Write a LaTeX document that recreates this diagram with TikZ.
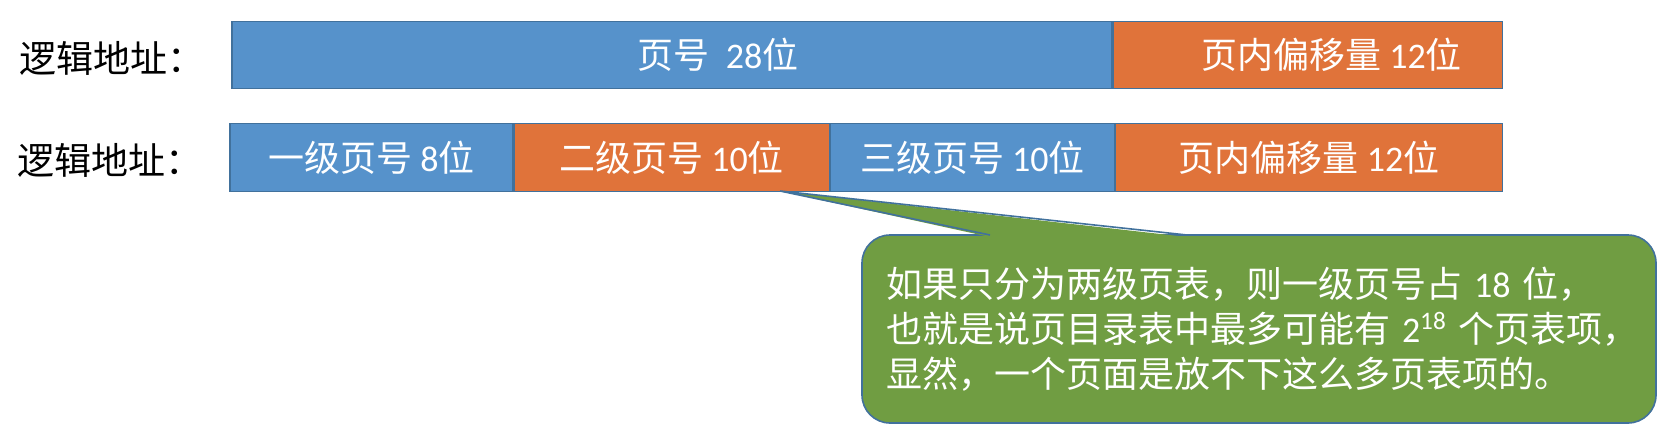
\documentclass[tikz,border=0pt]{standalone}
\usepackage{fontspec}
\setmainfont{Noto Sans CJK SC}
\newfontfamily\lat{Carlito}
\usepackage{xcolor}
\usetikzlibrary{positioning}
\definecolor{barblue}{RGB}{86,146,203}
\definecolor{barorange}{RGB}{224,115,58}
\definecolor{notegreen}{RGB}{112,157,66}
\definecolor{edgeblue}{RGB}{65,113,156}
\newcommand{\dg}[1]{{\lat #1}}

\begin{document}
\begin{tikzpicture}[x=0.5pt,y=-0.5pt,
  addr/.style={anchor=west,inner sep=0pt,font=\fontsize{18.5}{22}\selectfont},
  bar/.style={draw=edgeblue,line width=0.6pt,minimum height=33.75pt,inner sep=0pt,
    text=white,font=\fontsize{18}{22}\selectfont},
  bartext/.style={text=white,inner sep=0pt,font=\fontsize{18}{22}\selectfont},
  note/.style={rectangle,rounded corners=14pt,fill=notegreen,draw=edgeblue,line width=0.8pt,
    text=white,text width=373pt,inner xsep=12pt,minimum height=94pt,align=left,
    font=\fontsize{18}{22.5}\selectfont}]
\useasboundingbox (0,0) rectangle (1667,434);
% one page number of 28 bits
\node[addr] (lab1) at (19,58) {逻辑地址：};
\node[bar,fill=barblue,minimum width=440pt] (pn) at (672,55) {};
\node[bar,fill=barorange,minimum width=194.5pt,right=0pt of pn] (off1) {};
\node[bartext] (t1) at ([xshift=23pt]pn.center) {页号\ \ \dg{28}位};
\node[bartext] (t2) at ([xshift=12pt]off1.center) {页内偏移量 \dg{12}位};
% three levels
\node[addr] (lab2) at (17,160) {逻辑地址：};
\node[bar,fill=barblue,minimum width=141.5pt] (l1) at (371.5,157.5) {一级页号 \dg{8}位};
\node[bar,fill=barorange,minimum width=157.5pt,right=0pt of l1] (l2) {二级页号 \dg{10}位};
\node[bar,fill=barblue,minimum width=142pt,right=0pt of l2] (l3) {三级页号 \dg{10}位};
\node[bar,fill=barorange,minimum width=193.5pt,right=0pt of l3] (off2) {页内偏移量 \dg{12}位};
% callout
\node[note] (note) at (1259,329) {\mbox{如果只分为两级页表，则一级页号占 \dg{18} 位，}\\
  \mbox{也就是说页目录表中最多可能有 \dg{2\textsuperscript{18}} 个页表项，}\\
  \mbox{显然，一个页面是放不下这么多页表项的。}};
\coordinate (tip) at (780,191);
\coordinate (pl) at (990,235);
\coordinate (pr) at (1187,235);
\fill[notegreen] (tip) -- ([yshift=-1pt]pl) -- ([yshift=-1pt]pr) -- cycle;
\draw[edgeblue,line width=0.8pt] (pl) -- (tip) -- (pr);
\end{tikzpicture}
\end{document}
